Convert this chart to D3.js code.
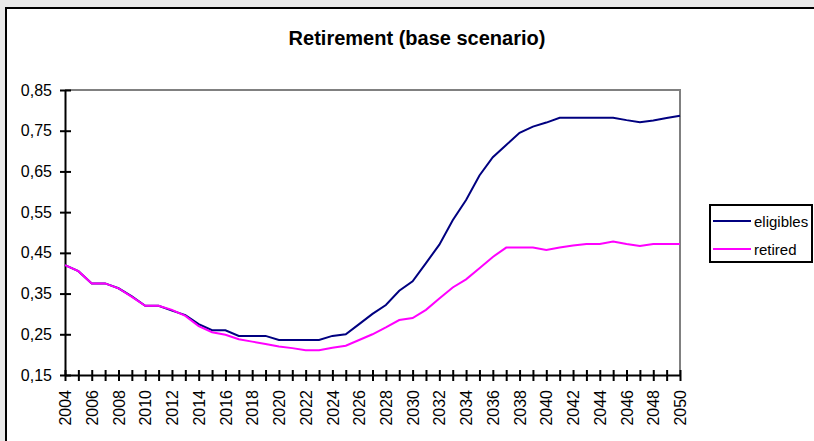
<!DOCTYPE html>
<html>
<head>
<meta charset="utf-8">
<script src="https://cdn.jsdelivr.net/npm/d3@7"></script>
<style>
  body { margin: 0; background: #fff; }
  svg { display: block; font-family: "Liberation Sans", Arial, sans-serif; }
</style>
</head>
<body>
<div id="chart"></div>
<script>
// Years on the x axis (one point per year)
const years = d3.range(2004, 2051);

// Share of eligibles
const eligibles = [
  0.420, 0.405, 0.375, 0.375, 0.363, 0.343, 0.320, 0.320, 0.308, 0.297,
  0.275, 0.260, 0.260, 0.246, 0.246, 0.246, 0.236, 0.236, 0.236, 0.236,
  0.246, 0.250, 0.275, 0.300, 0.322, 0.357, 0.380, 0.425, 0.470, 0.530,
  0.580, 0.640, 0.685, 0.715, 0.745, 0.760, 0.770, 0.782, 0.782, 0.782,
  0.782, 0.782, 0.776, 0.771, 0.775, 0.781, 0.787
];

// Share of retired
const retired = [
  0.420, 0.405, 0.375, 0.375, 0.363, 0.342, 0.320, 0.320, 0.310, 0.295,
  0.270, 0.255, 0.249, 0.238, 0.232, 0.226, 0.220, 0.216, 0.211, 0.211,
  0.217, 0.222, 0.236, 0.250, 0.267, 0.285, 0.290, 0.310, 0.338, 0.365,
  0.385, 0.412, 0.440, 0.463, 0.463, 0.463, 0.457, 0.463, 0.468, 0.472,
  0.472, 0.478, 0.472, 0.467, 0.472, 0.472, 0.472
];

const yTicks = [0.15, 0.25, 0.35, 0.45, 0.55, 0.65, 0.75, 0.85];
const xLabelYears = d3.range(2004, 2051, 2);

const seriesNames = ["eligibles", "retired"];
const seriesColors = ["#000080", "#ff00ff"];
const series = [eligibles, retired];

const width = 814, height = 441;
const plot = { left: 65, right: 680, top: 90, bottom: 375 };

const svg = d3.select("#chart").append("svg")
  .attr("width", width)
  .attr("height", height);

// grey backdrop behind the chart frame
svg.append("rect").attr("width", width).attr("height", height).attr("fill", "#e9e9e9");

// chart frame (runs off the right and bottom)
svg.append("rect")
  .attr("x", 6).attr("y", 8)
  .attr("width", width + 20).attr("height", height + 20)
  .attr("fill", "#fff")
  .attr("stroke", "#000")
  .attr("stroke-width", 2);

svg.append("text")
  .attr("x", 417).attr("y", 45)
  .attr("text-anchor", "middle")
  .attr("font-size", 20)
  .attr("font-weight", "bold")
  .text("Retirement (base scenario)");

const x = d3.scaleLinear().domain([2004, 2050]).range([plot.left, plot.right]);
const y = d3.scaleLinear().domain([0.15, 0.85]).range([plot.bottom, plot.top]);

// grey top and right edges of plot area
svg.append("path")
  .attr("d", `M${plot.left},${plot.top}H${plot.right}V${plot.bottom}`)
  .attr("fill", "none")
  .attr("stroke", "#808080")
  .attr("stroke-width", 2);

// y axis
const yAxis = svg.append("g")
  .attr("transform", `translate(${plot.left},0)`)
  .call(d3.axisLeft(y).tickValues(yTicks)
    .tickFormat(d => d3.format(".2f")(d).replace(".", ","))
    .tickSizeOuter(0));
yAxis.select(".domain").attr("stroke", "#000").attr("stroke-width", 2);
yAxis.selectAll(".tick line").attr("x1", -5).attr("x2", 6).attr("stroke-width", 2);
yAxis.selectAll(".tick text")
  .attr("x", -13)
  .attr("font-size", 16)
  .attr("font-family", "Liberation Sans, Arial, sans-serif")
  .attr("fill", "#000");

// x axis: a tick every year, label every second year
const xAxis = svg.append("g")
  .attr("transform", `translate(0,${plot.bottom})`)
  .call(d3.axisBottom(x).tickValues(years)
    .tickFormat(d => xLabelYears.includes(d) ? d : "")
    .tickSizeOuter(0));
xAxis.select(".domain").attr("stroke", "#000").attr("stroke-width", 2);
xAxis.selectAll(".tick line").attr("y1", -5).attr("y2", 6).attr("stroke-width", 2);
xAxis.selectAll(".tick text")
  .attr("transform", "rotate(-90)")
  .attr("x", -15).attr("y", 0).attr("dy", "0.35em")
  .attr("text-anchor", "end")
  .attr("font-size", 16)
  .attr("font-family", "Liberation Sans, Arial, sans-serif")
  .attr("fill", "#000");

// lines
const line = d3.line()
  .x((d, i) => x(years[i]))
  .y(d => y(d));

series.forEach((s, k) => {
  svg.append("path")
    .datum(s)
    .attr("fill", "none")
    .attr("stroke", seriesColors[k])
    .attr("stroke-width", 2)
    .attr("d", line);
});

// legend
const legend = svg.append("g").attr("transform", "translate(710,205)");
legend.append("rect")
  .attr("width", 102).attr("height", 57)
  .attr("fill", "#fff").attr("stroke", "#000").attr("stroke-width", 2);
seriesNames.forEach((name, k) => {
  const ly = 16 + k * 28;
  legend.append("line")
    .attr("x1", 3).attr("x2", 41).attr("y1", ly).attr("y2", ly)
    .attr("stroke", seriesColors[k]).attr("stroke-width", 2);
  legend.append("text")
    .attr("x", 44).attr("y", ly + 6)
    .attr("font-size", 15)
    .text(name);
});
</script>
</body>
</html>
